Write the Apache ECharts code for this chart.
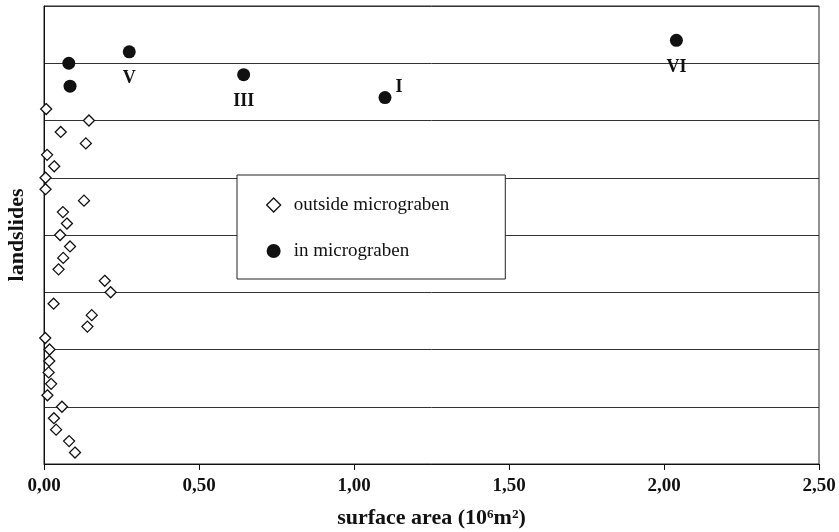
<!DOCTYPE html>
<html>
<head>
<meta charset="utf-8">
<script src="https://cdn.jsdelivr.net/npm/echarts@6/dist/echarts.min.js"></script>
<style>
  html, body { margin: 0; padding: 0; background: #fff; }
  #chart { width: 839px; height: 532px; }
</style>
</head>
<body>
<div id="chart"></div>
<script>
// landslides outside micrograben: surface area (10^6 m2) and rank position
const outsideArea = [0.007, 0.145, 0.054, 0.135, 0.010, 0.033, 0.005, 0.005,
  0.129, 0.061, 0.074, 0.052, 0.084, 0.062, 0.047, 0.196, 0.215, 0.031,
  0.154, 0.140, 0.004, 0.018, 0.017, 0.015, 0.023, 0.011, 0.058, 0.032,
  0.039, 0.081, 0.100];
const outsidePos = [6.2, 6.0, 5.8, 5.6, 5.4, 5.2, 5.0, 4.8, 4.6, 4.4, 4.2,
  4.0, 3.8, 3.6, 3.4, 3.2, 3.0, 2.8, 2.6, 2.4, 2.2, 2.0, 1.8, 1.6, 1.4,
  1.2, 1.0, 0.8, 0.6, 0.4, 0.2];

// landslides in micrograben
const inArea = [2.04, 0.275, 0.08, 0.644, 0.084, 1.10];
const inPos = [7.4, 7.2, 7.0, 6.8, 6.6, 6.4];
const inNames = ['VI', 'V', '', 'III', '', 'I'];

const xTicks = { min: 0, max: 2.5, step: 0.5 };

const font = '"Liberation Serif", "Times New Roman", serif';
const ink = '#111';

const chart = echarts.init(document.getElementById('chart'));

const outsideData = outsideArea.map((v, i) => [v, outsidePos[i]]);
const inData = inArea.map((v, i) => {
  const item = { value: [v, inPos[i]], name: inNames[i] };
  if (inNames[i] === 'I') {
    item.label = { position: 'right', distance: 4, offset: [0, -10] };
  }
  return item;
});

const option = {
  backgroundColor: '#fff',
  animation: false,
  textStyle: { fontFamily: font },
  grid: {
    left: 44, right: 20, top: 6, bottom: 68,
    outerBoundsMode: 'none',
    containLabel: false,
    show: true,
    borderColor: '#222',
    borderWidth: 1
  },
  legend: {
    orient: 'vertical',
    left: 237,
    top: 175,
    backgroundColor: '#fff',
    borderColor: '#222',
    borderWidth: 1,
    borderRadius: 0,
    padding: [20, 56, 18, 29],
    itemGap: 26,
    itemWidth: 14,
    itemHeight: 14,
    textStyle: {
      fontFamily: font,
      fontSize: 19,
      color: ink,
      lineHeight: 20,
      padding: [0, 0, 0, 8]
    },
    data: [
      { name: 'outside micrograben', icon: 'diamond',
        itemStyle: { color: '#fff', borderColor: ink, borderWidth: 1.3, opacity: 1 } },
      { name: 'in micrograben', icon: 'circle',
        itemStyle: { color: ink, opacity: 1 } }
    ]
  },
  xAxis: {
    type: 'value',
    min: xTicks.min,
    max: xTicks.max,
    interval: xTicks.step,
    name: 'surface area (10⁶m²)',
    nameLocation: 'middle',
    nameGap: 43,
    nameTextStyle: { fontFamily: font, fontSize: 22, fontWeight: 'bold', color: ink },
    axisLine: { lineStyle: { color: ink, width: 1 } },
    axisTick: { show: true, length: 6, lineStyle: { color: ink } },
    axisLabel: {
      fontFamily: font, fontSize: 19, fontWeight: 'bold', color: ink, margin: 13,
      formatter: v => v.toFixed(2).replace('.', ',')
    },
    splitLine: { show: false }
  },
  yAxis: {
    type: 'value',
    min: 0,
    max: 8,
    interval: 1,
    name: 'landslides',
    nameLocation: 'middle',
    nameGap: 16,
    nameTextStyle: { fontFamily: font, fontSize: 22, fontWeight: 'bold', color: ink },
    axisLine: { show: true, lineStyle: { color: ink, width: 1 } },
    axisTick: { show: false },
    axisLabel: { show: false },
    splitLine: { show: true, lineStyle: { color: '#333', width: 1 } }
  },
  series: [
    {
      name: 'outside micrograben',
      type: 'scatter',
      symbol: 'diamond',
      symbolSize: 11,
      itemStyle: { color: '#fff', borderColor: ink, borderWidth: 1.3, opacity: 1 },
      data: outsideData,
      z: 3
    },
    {
      name: 'in micrograben',
      type: 'scatter',
      symbol: 'circle',
      symbolSize: 13,
      itemStyle: { color: ink, opacity: 1 },
      label: {
        show: true,
        position: 'bottom',
        distance: 11,
        formatter: p => p.name,
        fontFamily: font,
        fontSize: 18,
        fontWeight: 'bold',
        color: ink
      },
      data: inData,
      z: 3
    }
  ]
};

chart.setOption(option);
</script>
</body>
</html>
